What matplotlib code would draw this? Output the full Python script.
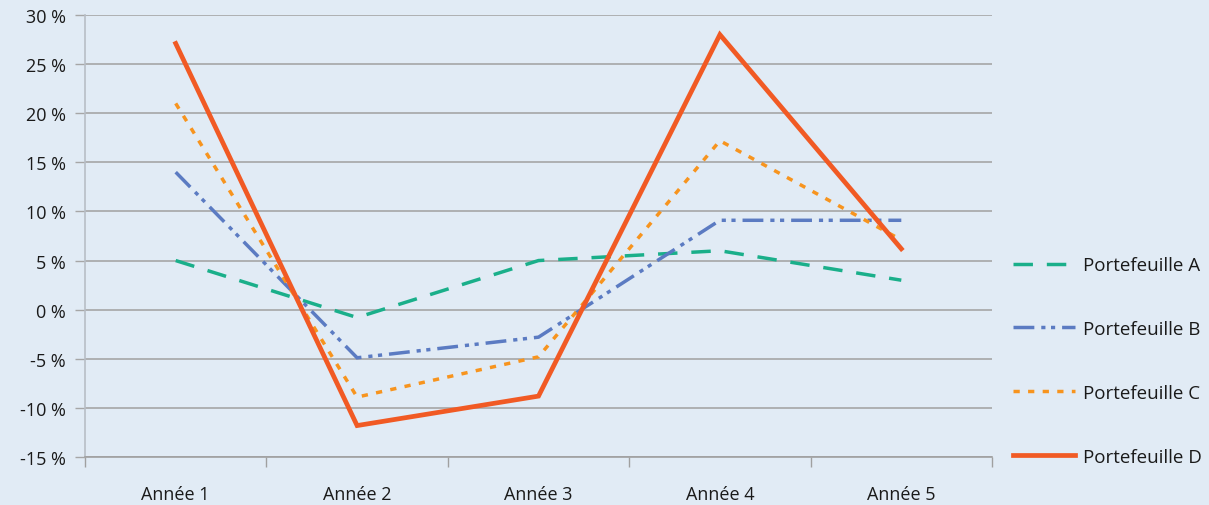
import matplotlib
matplotlib.use("Agg")
import matplotlib.pyplot as plt
from matplotlib.ticker import FixedLocator

plt.rcParams['font.family'] = ['Open Sans', 'DejaVu Sans']
plt.rcParams['lines.scale_dashes'] = False

categories = ["Année 1", "Année 2", "Année 3", "Année 4", "Année 5"]
series_names = ["Portefeuille A", "Portefeuille B", "Portefeuille C", "Portefeuille D"]
portefeuille_a = [5, -0.8, 5, 6, 3]
portefeuille_b = [14, -4.9, -2.8, 9.1, 9.1]
portefeuille_c = [21, -8.9, -4.8, 17.2, 7.1]
portefeuille_d = [27.1, -11.8, -8.8, 28, 6.2]
y_ticks = [-15, -10, -5, 0, 5, 10, 15, 20, 25, 30]
y_tick_labels = [f"{v} %" for v in y_ticks]

bg = "#E1EBF5"
fig = plt.figure(figsize=(12.09, 5.06), dpi=100, facecolor=bg)
ax = fig.add_axes([85/1209, 1-458/506, (992-85)/1209, (458-16)/506])
ax.set_facecolor(bg)

x = list(range(len(categories)))
styles = [
    dict(color="#1AAF8A", lw=2.5, dashes=(14, 10)),
    dict(color="#5B7BC2", lw=2.5, dashes=(15, 5, 3, 4, 3, 5)),
    dict(color="#F7941E", lw=2.5, dashes=(4.5, 6)),
    dict(color="#F15A24", lw=3.4, linestyle="-"),
]
data = [portefeuille_a, portefeuille_b, portefeuille_c, portefeuille_d]
for name, vals, st in zip(series_names, data, styles):
    ax.plot(x, vals, label=name, solid_joinstyle="miter", dash_joinstyle="miter", **st)

ax.set_xlim(-0.5, len(categories) - 0.5)
ax.set_ylim(-15, 30)
ax.set_yticks(y_ticks)
ax.set_yticklabels(y_tick_labels)
ax.set_xticks(x)
ax.set_xticklabels(categories)
ax.xaxis.set_minor_locator(FixedLocator([i + 0.5 for i in range(-1, len(categories))]))
ax.tick_params(axis='x', which='major', length=0, pad=20, labelsize=13, colors="#1a1a1a")
ax.tick_params(axis='x', which='minor', length=7, color="#A0A0A0", width=1)
ax.tick_params(axis='y', length=7, color="#A6A6A6", width=1, pad=7, labelsize=13, colors="#1a1a1a")
ax.tick_params(axis='y', colors="#A6A6A6", labelcolor="#1a1a1a")

ax.grid(axis='y', color="#A6A6A6", lw=1.2)
ax.set_axisbelow(True)
for s in ["top", "right"]:
    ax.spines[s].set_visible(False)
ax.spines["left"].set_color("#B8BEC6")
ax.spines["left"].set_linewidth(1.2)
ax.spines["bottom"].set_color("#A0A0A0")
ax.spines["bottom"].set_linewidth(1.2)

leg = fig.legend(loc="center left", bbox_to_anchor=(1013/1209, 1-362/506), frameon=False,
                 handlelength=3.3, handletextpad=0.45, labelspacing=2.45, fontsize=13.5,
                 borderaxespad=0, borderpad=0)
for t in leg.get_texts():
    t.set_color("#1a1a1a")

fig.savefig("out.png", dpi=100, facecolor=bg)
